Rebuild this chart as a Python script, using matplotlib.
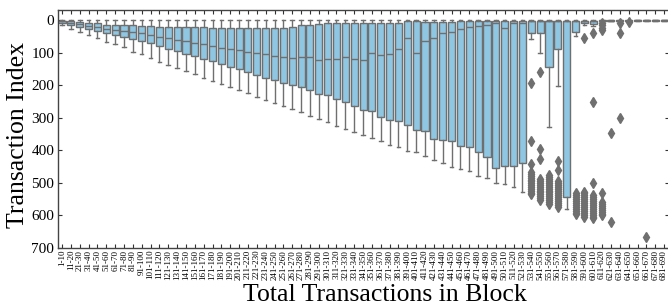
import matplotlib
matplotlib.use("Agg")
import matplotlib.pyplot as plt

plt.rcParams['font.family'] = ['Liberation Serif', 'DejaVu Serif']

categories = [
    "1-10", "11-20", "21-30", "31-40", "41-50", "51-60", "61-70", "71-80", "81-90", "91-100",
    "101-110", "111-120", "121-130", "131-140", "141-150", "151-160", "161-170", "171-180",
    "181-190", "191-200", "201-210", "211-220", "221-230", "231-240", "241-250", "251-260",
    "261-270", "271-280", "281-290", "291-300", "301-310", "311-320", "321-330", "331-340",
    "341-350", "351-360", "361-370", "371-380", "381-390", "391-400", "401-410", "411-420",
    "421-430", "431-440", "441-450", "451-460", "461-470", "471-480", "481-490", "491-500",
    "501-510", "511-520", "521-530", "531-540", "541-550", "551-560", "561-570", "571-580",
    "581-590", "591-600", "601-610", "611-620", "621-630", "631-640", "641-650", "651-660",
    "661-670", "671-680", "681-690",
]

q1 = [1, 3, 5, 9, 9, 13, 14, 15, 15, 16,
      17, 19, 19, 19, 20, 21, 21, 22, 23, 23,
      24, 23, 23, 24, 22, 22, 19, 15, 13, 11,
      9, 7, 7, 7, 7, 7, 7, 7, 7, 3,
      3, 5, 5, 5, 5, 3, 3, 3, 3, 3,
      3, 3, 3, 1, 1, 1, 1, 1, 1, 1,
      1, 0, 0, 0, 0, 0, 0, 0, 0]
med = [3, 9, 11, 16, 19, 25, 29, 32, 37, 40,
       44, 50, 55, 60, 65, 69, 73, 78, 84, 87,
       92, 97, 100, 105, 109, 112, 115, 114, 114, 123,
       118, 120, 114, 120, 122, 99, 108, 104, 89, 55,
       100, 65, 55, 38, 36, 25, 20, 16, 13, 9,
       22, 9, 7, 3, 3, 3, 3, 3, 3, 2,
       2, 1, 1, 1, 1, 0, 0, 0, 0]
q3 = [7, 15, 20, 27, 33, 40, 46, 50, 57, 64,
      71, 78, 87, 95, 103, 111, 118, 126, 135, 144,
      151, 160, 167, 176, 183, 192, 200, 206, 213, 226,
      229, 243, 251, 264, 276, 280, 299, 307, 311, 323,
      338, 342, 366, 368, 370, 387, 391, 405, 422, 456,
      447, 447, 438, 40, 40, 145, 89, 545, 35, 9,
      10, 2, 2, 2, 1, 1, 1, 1, 1]
whisker_low = [0] * 69
whisker_high = [14, 27, 35, 44, 55, 66, 74, 83, 96, 105,
                115, 127, 137, 147, 156, 166, 176, 186, 196, 205,
                215, 225, 235, 245, 255, 264, 274, 283, 294, 304,
                313, 324, 335, 345, 352, 361, 372, 383, 389, 402,
                406, 418, 430, 440, 452, 459, 465, 479, 485, 501,
                504, 514, 529, 58, 99, 327, 202, 580, 47, 14,
                17, 4, 3, 3, 2, 2, 2, 2, 2]

outliers = {
    53: [192, 371, 441, 466, 472, 478, 484, 490, 496, 502, 508, 514, 520, 526, 532, 535],
    54: [158, 396, 426, 488, 494, 500, 506, 512, 518, 524, 530, 536, 542, 548, 553],
    55: [476, 482, 488, 494, 500, 506, 512, 518, 524, 530, 536, 542, 548, 554, 560, 565],
    56: [434, 462, 495, 501, 507, 513, 519, 525, 531, 537, 543, 549, 555, 561, 567, 575],
    58: [533, 539, 545, 551, 557, 563, 569, 575, 581, 587, 593, 597],
    59: [53, 527, 533, 539, 545, 551, 557, 563, 569, 575, 581, 587, 593, 599, 604],
    60: [40, 250, 500, 538, 544, 550, 556, 562, 568, 574, 580, 586, 592, 598, 604, 608],
    61: [9, 15, 22, 30, 533, 560, 566, 572, 578, 584, 590, 596, 600],
    62: [346, 620],
    63: [9, 40, 302],
    64: [6],
    66: [667],
}

box_color = "#8fc7e3"
line_color = "#6f6f6f"

stats = []
for i, lab in enumerate(categories):
    stats.append(dict(label=lab, q1=q1[i], med=med[i], q3=q3[i],
                      whislo=whisker_low[i], whishi=whisker_high[i],
                      fliers=outliers.get(i, [])))

fig = plt.figure(figsize=(6.68, 3.08), dpi=100)
ax = fig.add_axes([57.6 / 668, 1 - 247.7 / 308, (668.5 - 57.6) / 668, (247.7 - 10) / 308])

ax.bxp(stats, positions=range(len(categories)), widths=0.8, patch_artist=True,
       boxprops=dict(facecolor=box_color, edgecolor=line_color, linewidth=1.0),
       medianprops=dict(color=line_color, linewidth=1.0),
       whiskerprops=dict(color=line_color, linewidth=1.0),
       capprops=dict(color=line_color, linewidth=1.0),
       flierprops=dict(marker="d", markerfacecolor=line_color, markeredgecolor=line_color,
                       markersize=5, linestyle="none"))

ax.set_xlim(-0.5, len(categories) - 0.5)
ax.set_ylim(700, -32)
ax.set_yticks([0, 100, 200, 300, 400, 500, 600, 700])
ax.set_xticks(range(len(categories)))
ax.set_xticklabels(categories, rotation=90, fontsize=6.5)
ax.tick_params(axis='y', labelsize=11, pad=2.5)
ax.tick_params(axis='x', pad=1.5)
ax.tick_params(direction='in', top=True, right=True, length=3, width=0.8, color='#333333')
for s in ax.spines.values():
    s.set_color('#444444')
    s.set_linewidth(1.0)

ax.set_ylabel("Transaction Index", fontsize=18.5)
ax.set_xlabel("Total Transactions in Block", fontsize=18.5)
ax.yaxis.set_label_coords(-0.046, 0.474)
ax.xaxis.set_label_coords(0.536, -0.226)
ax.xaxis.label.set_va('baseline')

fig.savefig("out.png", dpi=100)
